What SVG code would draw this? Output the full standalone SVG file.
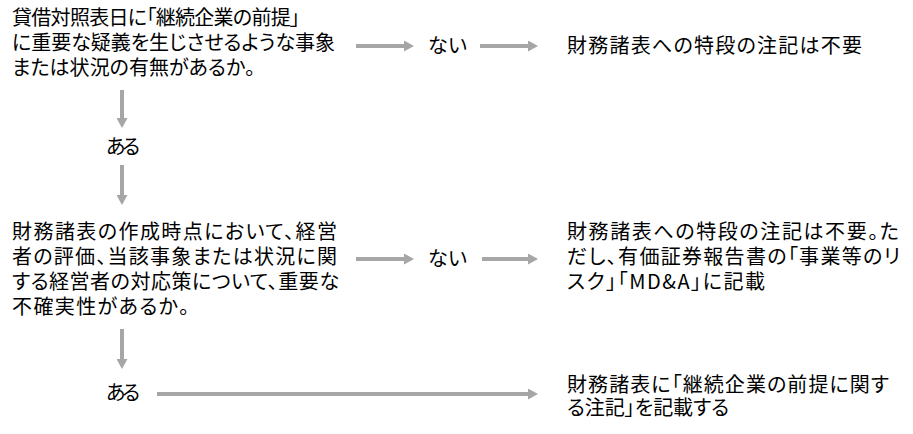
<svg xmlns="http://www.w3.org/2000/svg" width="913" height="434" viewBox="0 0 913 434">
<style>
text{font-family:"Noto Sans CJK JP","Noto Sans",sans-serif;font-size:20px;fill:#000;font-feature-settings:"palt";}
.c{stroke:#A6A6A6;stroke-width:4;fill:none;}
</style>
<defs>
<marker id="ah" markerUnits="userSpaceOnUse" markerWidth="10" markerHeight="11" refX="0" refY="5.5" orient="auto" viewBox="0 0 10 11">
<path d="M0,0 L10,5.5 L0,11 Z" fill="#A6A6A6"/>
</marker>
</defs>
<rect width="913" height="434" fill="#fff"/>
<g id="q1">
<text x="12" y="25" textLength="288">貸借対照表日に「継続企業の前提」</text>
<text x="12" y="50" textLength="323">に重要な疑義を生じさせるような事象</text>
<text x="12" y="75" textLength="243">または状況の有無があるか。</text>
</g>
<g id="no1"><text x="428" y="53" textLength="39">ない</text></g>
<g id="r1"><text x="567" y="53" textLength="295">財務諸表への特段の注記は不要</text></g>
<g id="yes1"><text x="106" y="154" textLength="34">ある</text></g>
<g id="q2">
<text x="12" y="239" textLength="325">財務諸表の作成時点において、経営</text>
<text x="12" y="264" textLength="325">者の評価、当該事象または状況に関</text>
<text x="12" y="289" textLength="327">する経営者の対応策について、重要な</text>
<text x="12" y="314" textLength="177">不確実性があるか。</text>
</g>
<g id="no2"><text x="428" y="266" textLength="39">ない</text></g>
<g id="r2">
<text x="567" y="239" textLength="332">財務諸表への特段の注記は不要。た</text>
<text x="567" y="264" textLength="333">だし、有価証券報告書の「事業等のリ</text>
<text x="567" y="289" textLength="198">スク」「MD&amp;A」に記載</text>
</g>
<g id="yes2"><text x="106" y="400" textLength="34">ある</text></g>
<g id="r3">
<text x="567" y="392" textLength="322">財務諸表に「継続企業の前提に関す</text>
<text x="567" y="415" textLength="162">る注記」を記載する</text>
</g>
<g id="connectors">
<path class="c" d="M356,46 H404" marker-end="url(#ah)"/>
<path class="c" d="M480,46 H528" marker-end="url(#ah)"/>
<path class="c" d="M122,90 V118" marker-end="url(#ah)"/>
<path class="c" d="M122,165 V195" marker-end="url(#ah)"/>
<path class="c" d="M356,259 H404" marker-end="url(#ah)"/>
<path class="c" d="M482,259 H528" marker-end="url(#ah)"/>
<path class="c" d="M122,329 V359" marker-end="url(#ah)"/>
<path class="c" d="M157,394 H528" marker-end="url(#ah)"/>
</g>
</svg>
